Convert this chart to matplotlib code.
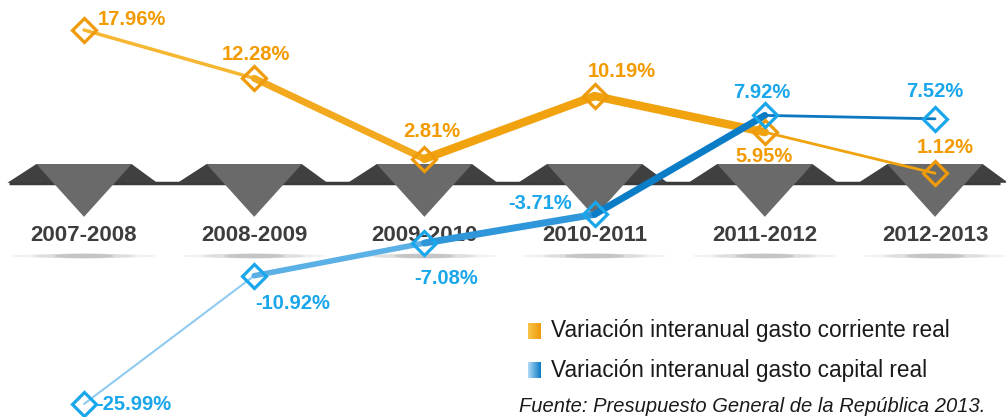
import matplotlib
matplotlib.use("Agg")
import matplotlib.pyplot as plt
import numpy as np
from matplotlib.patches import Polygon, Ellipse
from matplotlib.colors import LinearSegmentedColormap

plt.rcParams['font.family'] = ['Liberation Sans', 'DejaVu Sans']

# data
periods = ['2007-2008', '2008-2009', '2009-2010', '2010-2011', '2011-2012', '2012-2013']
corriente = [17.96, 12.28, 2.81, 10.19, 5.95, 1.12]
capital = [-25.99, -10.92, -7.08, -3.71, 7.92, 7.52]

# per-segment styling (the original uses tapered strokes)
cor_seg_w = [2.5, 5, 6, 6, 2]
cor_seg_c = ['#F5B732', '#F2A91E', '#F0A30F', '#F0A30F', '#F0A30F']
cap_seg_w = [1.5, 4, 5, 5, 2]
cap_seg_c = ['#8FCBF0', '#5BB0E6', '#2F96D9', '#0B7DC7', '#0B78C0']
# label offsets in pixels (dx, dy, ha)
cor_off = [(14, 10, 'left'), (2, 24, 'center'), (7, 27, 'center'),
           (27, 25, 'center'), (-1, -24, 'center'), (10, 26, 'center')]
cap_off = [(12, -1, 'left'), (38, -28, 'center'), (22, -35, 'center'),
           (-54, 11, 'center'), (-3, 23, 'center'), (0, 27, 'center')]

orange_txt = '#F29A00'
blue_txt = '#1AA6EA'

fig = plt.figure(figsize=(10.06, 4.17), dpi=100)
ax = fig.add_axes([0, 0, 1, 1])
ax.set_xlim(-0.4935, 5.417)
ax.set_ylim(-27.52, 21.48)
ax.axis('off')

x = np.arange(len(periods))

# decorative band and triangles
ax.plot([-0.44, 5.38], [0, 0], color='#3a3a3a', lw=2.5, zorder=1, solid_capstyle='butt')
for xi, p in zip(x, periods):
    ax.add_patch(Polygon([(xi - 0.45, 0), (xi - 0.28, 2.2), (xi + 0.28, 2.2), (xi + 0.43, 0)],
                         closed=True, fc='#404040', ec='none', zorder=1))
    ax.add_patch(Polygon([(xi - 0.28, 2.2), (xi + 0.28, 2.2), (xi, -4.0)],
                         closed=True, fc='#6a6a6a', ec='none', zorder=1.1))
    for w, a in [(0.85, 0.08), (0.6, 0.12), (0.35, 0.18)]:
        ax.add_patch(Ellipse((xi, -8.6), w, 0.55, fc='#555555', ec='none', alpha=a, zorder=1))
    ax.text(xi, -6.15, p, ha='center', va='center', fontsize=16, fontweight='bold',
            color='#3d3d3d', zorder=2)

# lines
for i in range(len(x) - 1):
    ax.plot(x[i:i + 2], corriente[i:i + 2], color=cor_seg_c[i], lw=cor_seg_w[i],
            solid_capstyle='round', zorder=3)
    ax.plot(x[i:i + 2], capital[i:i + 2], color=cap_seg_c[i], lw=cap_seg_w[i],
            solid_capstyle='round', zorder=3)
ax.plot(x, corriente, ls='none', marker='D', ms=12.5, mfc='none', mec='#EE9A0A', mew=2.3, zorder=4)
ax.plot(x, capital, ls='none', marker='D', ms=12.5, mfc='none', mec='#1AA6EA', mew=2.3, zorder=4)

for xi, v, (dx, dy, ha) in zip(x, corriente, cor_off):
    ax.annotate(f'{v:.2f}%', (xi, v), xytext=(dx, dy), textcoords='offset pixels',
                ha=ha, va='center', fontsize=14.5, fontweight='bold', color=orange_txt, zorder=5)
for xi, v, (dx, dy, ha) in zip(x, capital, cap_off):
    ax.annotate(f'{v:.2f}%', (xi, v), xytext=(dx, dy), textcoords='offset pixels',
                ha=ha, va='center', fontsize=14.5, fontweight='bold', color=blue_txt, zorder=5)

# legend
W, H = 1006, 417
legend_items = [('Variación interanual gasto corriente real', ['#F8C548', '#EE9A0C'], 331),
                ('Variación interanual gasto capital real', ['#B0DAF4', '#0B7CC6'], 370)]
for label, cols, yp in legend_items:
    lax = fig.add_axes([528 / W, 1 - (yp + 8) / H, 13 / W, 16 / H])
    lax.imshow(np.linspace(0, 1, 50).reshape(1, -1), aspect='auto',
               cmap=LinearSegmentedColormap.from_list('g', cols))
    lax.axis('off')
    fig.text(551 / W, 1 - yp / H, label, ha='left', va='center', fontsize=16.3, color='#1a1a1a')

fig.text(985 / W, 1 - 407 / H, 'Fuente: Presupuesto General de la República 2013.',
         ha='right', va='center', fontsize=14.5, style='italic', color='#1a1a1a')

fig.savefig('out.png', dpi=100)
